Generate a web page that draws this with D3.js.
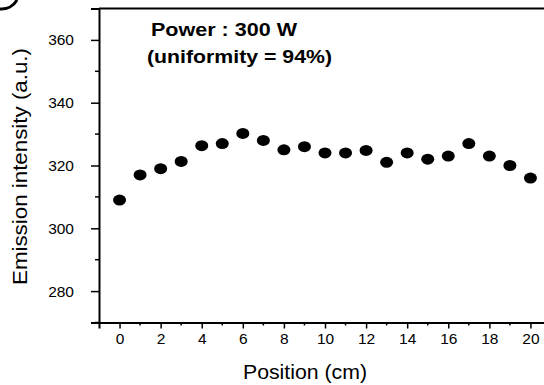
<!DOCTYPE html>
<html><head><meta charset="utf-8">
<script src="https://cdn.jsdelivr.net/npm/d3@7/dist/d3.min.js"></script>
<style>body{margin:0;background:#fff}svg{display:block}text{font-family:"Liberation Sans",Arial,sans-serif;fill:#000}</style>
</head><body><svg id="c" width="544" height="385"></svg>
<script>
const positions = [0,1,2,3,4,5,6,7,8,9,10,11,12,13,14,15,16,17,18,19,20];
const intensity = [309,317,319,321.3,326.3,327,330.2,328,325,326,324,324,324.8,321,324,322,323,327,323,320,316];
const xTicks = [0,2,4,6,8,10,12,14,16,18,20];
const xMinor = [1,3,5,7,9,11,13,15,17,19];
const yTicks = [280,300,320,340,360];
const yMinor = [270,290,310,330,350];
const title1 = "Power : 300 W";
const title2 = "(uniformity = 94%)";

const svg = d3.select("#c");
const x = d3.scaleLinear().domain([-1,21]).range([99,551]);
const y = d3.scaleLinear().domain([270,370]).range([322.5,8.5]);

// frame: top line
svg.append("line").attr("x1",99).attr("x2",551).attr("y1",y(370)).attr("y2",y(370))
  .attr("stroke","#000").attr("stroke-width",2);

// x axis
const gx = svg.append("g").attr("transform",`translate(0,${y(270)})`)
  .call(d3.axisBottom(x).tickValues(xTicks).tickSize(6).tickPadding(4).tickFormat(d3.format("d")));
gx.append("g").selectAll("line").data(xMinor).join("line")
  .attr("x1",d=>x(d)).attr("x2",d=>x(d)).attr("y1",0).attr("y2",3).attr("stroke","#000").attr("stroke-width",1.5);
// y axis
const gy = svg.append("g").attr("transform",`translate(${x(-1)},0)`)
  .call(d3.axisLeft(y).tickValues(yTicks).tickSize(8).tickPadding(17).tickFormat(d3.format("d")));
gy.append("g").selectAll("line").data(yMinor).join("line")
  .attr("y1",d=>y(d)).attr("y2",d=>y(d)).attr("x1",0).attr("x2",-4).attr("stroke","#000").attr("stroke-width",1.5);

[gx,gy].forEach(g=>{
  g.select(".domain").attr("stroke","#000").attr("stroke-width",2);
  g.selectAll(".tick line").attr("stroke","#000").attr("stroke-width",1.5);
  g.selectAll(".tick text").attr("font-size",15.5).attr("font-family","Liberation Sans, Arial, sans-serif").attr("fill","#000");
});

// points
svg.append("g").selectAll("ellipse").data(positions).join("ellipse")
  .attr("cx",(d)=>x(d)).attr("cy",(d,i)=>y(intensity[i]))
  .attr("rx",6.5).attr("ry",5.5).attr("fill","#000");

// annotation
svg.append("text").attr("x",151).attr("y",35.5).attr("font-size",18).attr("font-weight","bold")
  .attr("textLength",146).attr("lengthAdjust","spacingAndGlyphs").text(title1);
svg.append("text").attr("x",147).attr("y",63).attr("font-size",18).attr("font-weight","bold")
  .attr("textLength",185).attr("lengthAdjust","spacingAndGlyphs").text(title2);

// axis titles
svg.append("text").attr("x",305).attr("y",379).attr("text-anchor","middle").attr("font-size",20.5)
  .attr("textLength",124).attr("lengthAdjust","spacingAndGlyphs").text("Position (cm)");
svg.append("text").attr("transform","translate(27,166.5) rotate(-90)").attr("text-anchor","middle").attr("font-size",20)
  .attr("textLength",237).attr("lengthAdjust","spacingAndGlyphs").text("Emission intensity (a.u.)");

// corner arc fragment
svg.append("path").attr("d","M0,9 A18,18 0 0 0 17,0").attr("fill","none").attr("stroke","#000").attr("stroke-width",3);
</script></body></html>
